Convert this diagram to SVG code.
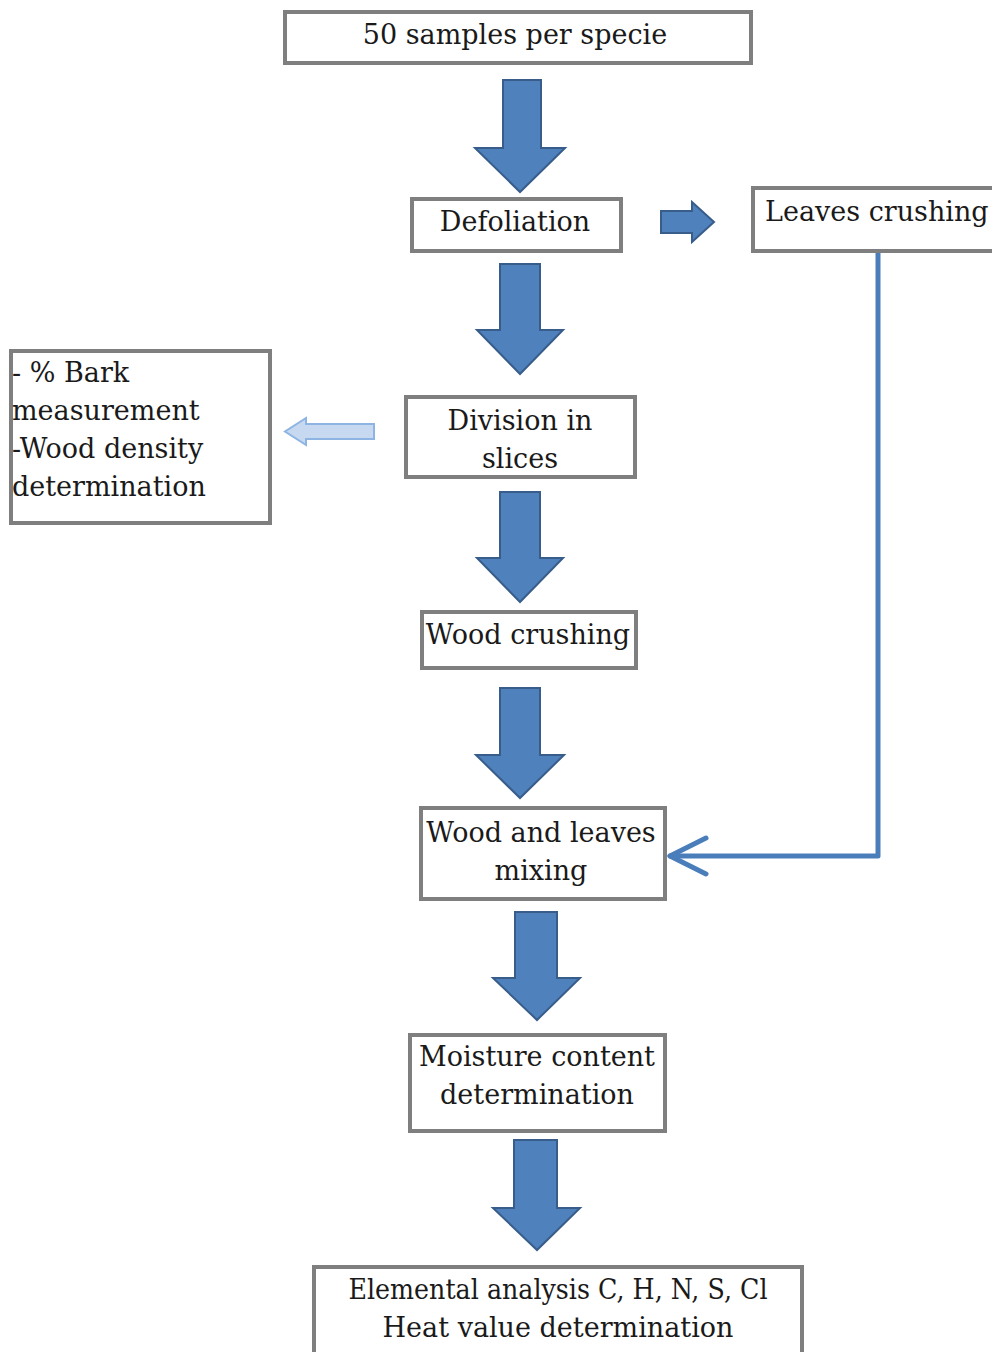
<svg xmlns="http://www.w3.org/2000/svg" width="992" height="1352" viewBox="0 0 992 1352">
<style>
.box{fill:#fff;stroke:#7f7f7f;stroke-width:4}
.t{font-family:"DejaVu Serif","Liberation Serif",serif;font-size:27px;fill:#1a1a1a}
.c{text-anchor:middle}
.ba{fill:#4f81bd;stroke:#385d8a;stroke-width:2;stroke-linejoin:miter}
.la{fill:#c6d9f1;stroke:#8eb4e3;stroke-width:2}
.conn{fill:none;stroke:#4a7ebb;stroke-width:5;stroke-linecap:round;stroke-linejoin:round}
</style>
<rect width="992" height="1352" fill="#fff"/>
<g id="connectors">
<path class="ba" d="M503,80 H541 V148 H565 L520,192 L475,148 H503 Z"/>
<path class="ba" d="M661,211 H692 V202 L714,222 L692,242 V233 H661 Z"/>
<path class="ba" d="M500,264 H540 V330 H563 L520,374 L477,330 H500 Z"/>
<path class="la" d="M374,424 V439 H306 V445 L285,431.5 L306,418 V424 Z"/>
<path class="ba" d="M500,492 H540 V558 H563 L520,602 L477,558 H500 Z"/>
<path class="ba" d="M500,688 H540 V755 H564 L520,798 L476,755 H500 Z"/>
<path class="ba" d="M515,912 H557 V978 H580 L537,1020 L493,978 H515 Z"/>
<path class="ba" d="M514,1140 H557 V1208 H580 L537,1250 L493,1208 H514 Z"/>
<path class="conn" d="M878,253 V856 H670"/>
<path class="conn" d="M706,838 L670,856 L706,874"/>
</g>
<g id="n1"><rect class="box" x="285" y="12" width="466" height="51"/><text class="t c" x="515" y="44">50 samples per specie</text></g>
<g id="n2"><rect class="box" x="412" y="199" width="209" height="52"/><text class="t c" x="515" y="231">Defoliation</text></g>
<g id="n3"><rect class="box" x="753" y="188" width="250" height="63"/><text class="t" x="765" y="221">Leaves crushing</text></g>
<g id="n4"><rect class="box" x="11" y="351" width="259" height="172"/>
<text class="t" x="12" y="382">- % Bark</text>
<text class="t" x="12" y="420">measurement</text>
<text class="t" x="12" y="458">-Wood density</text>
<text class="t" x="12" y="496">determination</text></g>
<g id="n5"><rect class="box" x="406" y="397" width="229" height="80"/><text class="t c" x="520" y="430">Division in</text><text class="t c" x="520" y="468">slices</text></g>
<g id="n6"><rect class="box" x="422" y="612" width="214" height="56"/><text class="t c" x="528" y="644">Wood crushing</text></g>
<g id="n7"><rect class="box" x="421" y="808" width="244" height="91"/><text class="t c" x="541" y="842">Wood and leaves</text><text class="t c" x="541" y="880">mixing</text></g>
<g id="n8"><rect class="box" x="410" y="1035" width="255" height="96"/><text class="t c" x="537" y="1066">Moisture content</text><text class="t c" x="537" y="1104">determination</text></g>
<g id="n9"><rect class="box" x="314" y="1267" width="488" height="100"/><text class="t c" x="558" y="1299" textLength="419" lengthAdjust="spacingAndGlyphs">Elemental analysis C, H, N, S, Cl</text><text class="t c" x="558" y="1337">Heat value determination</text></g>
</svg>
